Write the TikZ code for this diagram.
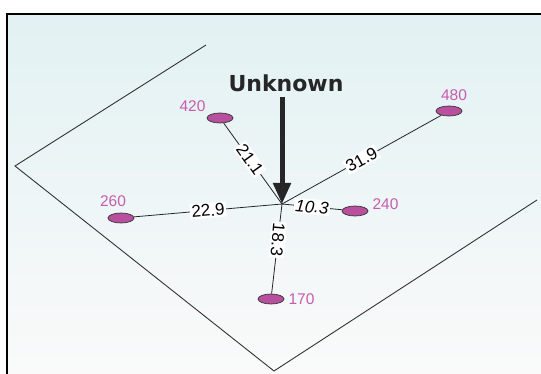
\documentclass[tikz,border=0pt]{standalone}
\usepackage{fontspec}
\setmainfont{Liberation Sans}
\newfontfamily\headfont{DejaVu Sans}
\usepackage{xcolor}
\usepackage{tikz}
\usetikzlibrary{shapes.geometric, arrows.meta, positioning, calc}

\definecolor{wellpink}{HTML}{B8509E}
\definecolor{labelpink}{HTML}{C65CAC}
\definecolor{skytop}{HTML}{E2F1F3}
\definecolor{skybot}{HTML}{FAFAFA}

\begin{document}
\begin{tikzpicture}[
    x=1pt, y=-1pt,
    font=\fontsize{17}{20}\selectfont,
    well/.style={ellipse, draw=black!80, line width=0.7pt, fill=wellpink, minimum width=26pt, minimum height=10pt, inner sep=0pt},
    wlabel/.style={text=labelpink, font=\fontsize{15.5}{18}\selectfont, inner sep=1pt},
    dist/.style={fill=white, inner sep=1.5pt},
    link/.style={draw=black!85, line width=0.8pt},
    plane/.style={draw=black!80, line width=0.9pt},
    bigarrow/.style={line width=5pt, draw=black!85, -{Triangle[width=17pt, length=21pt]}}
]
\useasboundingbox (0,0) rectangle (541,374);

% Background and frame
\shade[top color=skytop, bottom color=skybot] (7,14) rectangle (541,374);
\draw[line width=2pt] (7,374) -- (7,14) -- (541,14);

% Plane
\draw[plane] (206,45) -- (15,166) -- (274,371) -- (537,200);

% Wells
\coordinate (c) at (282,204);
\node (w420) [well] at (220,118) {};
\node (w480) [well] at (449,111) {};
\node (w260) [well] at (121,218) {};
\node (w240) [well] at (355,211) {};
\node (w170) [well] at (271,299) {};

\node [wlabel, left=0pt of w420, yshift=12pt] {420};
\node [wlabel, above=4pt of w480, xshift=5pt] {480};
\node [wlabel, above=5pt of w260, xshift=-8pt] {260};
\node [wlabel, right=3pt of w240, yshift=7pt] {240};
\node [wlabel, right=3pt of w170] {170};

% Unknown point
\node (unknown) at (286,83) {\headfont\bfseries\fontsize{22}{26}\selectfont\color{black!85}Unknown};
\coordinate (atop) at (282,97);
\draw [bigarrow] (atop) -- (c);

% Distances
\draw [link] (w420) -- node[dist, sloped, pos=0.45] {21.1} (c);
\draw [link] (c) -- node[dist, sloped, pos=0.5] {31.9} (w480);
\draw [link] (w260) -- node[dist, sloped, pos=0.5] {22.9} (c);
\draw [link] (c) -- node[dist, sloped, pos=0.5] {\itshape 10.3} (w240);
\draw [link] (c) -- node[dist, rotate=-95, pos=0.4] {18.3} (w170);

\end{tikzpicture}
\end{document}
